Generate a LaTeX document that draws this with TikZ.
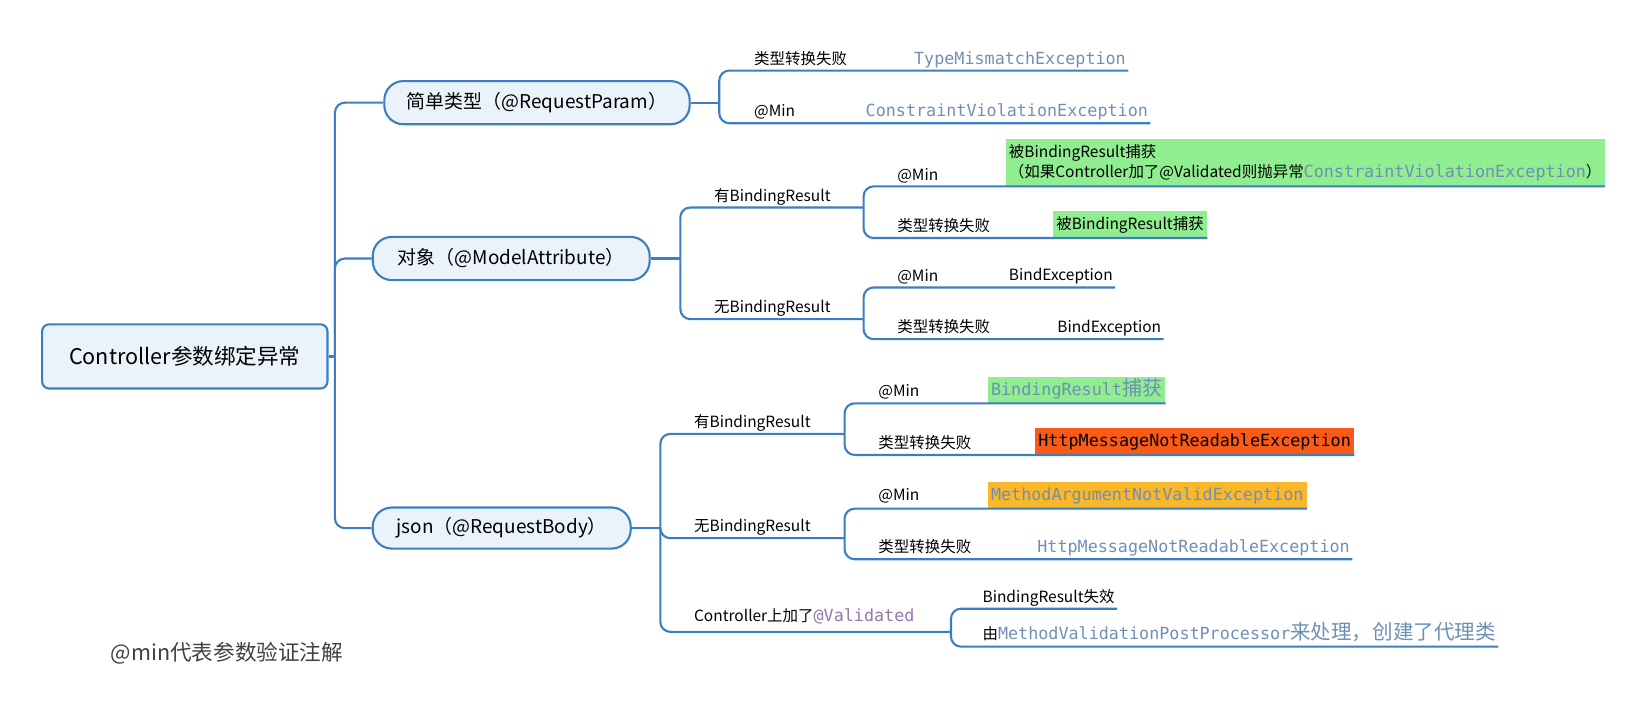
\documentclass[tikz,border=0pt]{standalone}
\usepackage{fontspec}
\setmainfont{Noto Sans CJK SC}
\newfontfamily\codefont{DejaVu Sans Mono}

\definecolor{linkblue}{HTML}{3B7FC2}
\definecolor{boxfill}{HTML}{EBF3FA}
\definecolor{codegray}{HTML}{6F8FB7}
\definecolor{hlgreen}{HTML}{90EE90}
\definecolor{hlorange}{HTML}{FA5A17}
\definecolor{hlyellow}{HTML}{F9B82A}
\definecolor{annot}{HTML}{9876AA}
\definecolor{memogray}{HTML}{404040}

\newcommand{\code}[1]{{\codefont\fontsize{15.9}{18}\selectfont #1}}

\begin{document}
\begin{tikzpicture}
        [x=1pt, y=-1pt, scale=1.0529, transform shape,
         root/.style={draw=linkblue, line width=2.1pt, fill=boxfill, rounded corners=7pt, minimum width=271pt, minimum height=61pt, font=\fontsize{20.5}{24}\selectfont},
         topic/.style={draw=linkblue, line width=2.1pt, fill=boxfill, rounded corners=19pt, minimum height=41pt, font=\fontsize{18}{22}\selectfont},
         branch/.style={draw=linkblue, line width=2.1pt, rounded corners=10pt},
         lbl/.style={anchor=base west, inner sep=0pt, font=\fontsize{14.7}{17}\selectfont},
         leaf/.style={anchor=south west, inner xsep=2pt, inner ysep=0pt, text depth=6pt, font=\fontsize{14.7}{17}\selectfont},
         hl/.style={anchor=south west, inner xsep=3pt, inner ysep=4.5pt, text height=13pt, text depth=3pt, font=\fontsize{14.7}{17}\selectfont},
         note/.style={anchor=south west, inner xsep=3pt, inner ysep=3pt, minimum height=45pt, align=left, font=\fontsize{14.7}{19}\selectfont}]
        \useasboundingbox (0,0) rectangle (1568,674.3);

        \node [root] (ctl) at (175.5,338.5) {Controller参数绑定异常};
        \node [topic, minimum width=290pt] (simple) at (510,97.5) {简单类型（@RequestParam）};
        \node [topic, minimum width=263pt] (object) at (485.5,245.5) {对象（@ModelAttribute）};
        \node [topic, minimum width=245pt, minimum height=39pt] (json) at (476.5,501.5) {json（@RequestBody）};

        \coordinate (hub) at (318,338.5);
        \coordinate (f1) at (683,97.5);
        \coordinate (f2) at (646,245.5);
        \coordinate (f3) at (627,501.5);
        \coordinate (g1) at (820,197);
        \coordinate (g2) at (820,303);
        \coordinate (h1) at (802,412);
        \coordinate (h2) at (802,511);
        \coordinate (h3) at (903,600);

        \node [lbl] (l1) at (716,61) {类型转换失败};
        \node [leaf, text=codegray] (tme) at (866,67) {\code{TypeMismatchException}};
        \node [lbl] (l2) at (716,111) {@Min};
        \node [leaf, text=codegray] (cve) at (820,117) {\code{ConstraintViolationException}};

        \node [lbl] (l3) at (678,191) {有BindingResult};
        \node [lbl] (l4) at (678,297) {无BindingResult};
        \node [lbl] (l5) at (852,171) {@Min};
        \node [note, fill=hlgreen] (cvnote) at (955,177) {被BindingResult捕获\\（如果Controller加了@Validated则抛异常\textcolor{codegray}{\code{ConstraintViolationException}}）};
        \node [lbl] (l6) at (852,220) {类型转换失败};
        \node [hl, fill=hlgreen] (caught) at (1000,226) {被BindingResult捕获};
        \node [lbl] (l7) at (852,267) {@Min};
        \node [leaf] (be1) at (956,273) {BindException};
        \node [lbl] (l8) at (852,316) {类型转换失败};
        \node [leaf] (be2) at (1002,322) {BindException};

        \node [lbl] (l9) at (659,406) {有BindingResult};
        \node [lbl] (l10) at (659,505) {无BindingResult};
        \node [lbl] (l11) at (659,590) {Controller上加了\textcolor{annot}{\code{@Validated}}};
        \node [lbl] (l12) at (834,377) {@Min};
        \node [hl, fill=hlgreen, text=codegray] (brc) at (938,383) {\code{BindingResult}{\fontsize{19}{20}\selectfont 捕获}};
        \node [lbl] (l13) at (834,426) {类型转换失败};
        \node [hl, fill=hlorange] (hmn1) at (983,432) {\code{HttpMessageNotReadableException}};
        \node [lbl] (l14) at (834,475) {@Min};
        \node [hl, fill=hlyellow, text=codegray] (manv) at (938,483) {\code{MethodArgumentNotValidException}};
        \node [lbl] (l15) at (834,525) {类型转换失败};
        \node [leaf, text=codegray] (hmn2) at (983,531) {\code{HttpMessageNotReadableException}};
        \node [leaf] (brfail) at (931,578) {BindingResult失效};
        \node [leaf] (mvpp) at (931,614) {由\textcolor{codegray}{\code{MethodValidationPostProcessor}\fontsize{19.5}{20}\selectfont 来处理，创建了代理类}};

        \node [lbl, text=memogray, font=\fontsize{20.5}{24}\selectfont] (memo) at (105,627) {@min代表参数验证注解};

        \draw [branch] (ctl.east) -- (hub);
        \draw [branch] (hub) |- (simple.west);
        \draw [branch] (hub) |- (object.west);
        \draw [branch] (hub) |- (json.west);

        \draw [branch] (simple.east) -- (f1);
        \draw [branch] (f1) |- (tme.south east);
        \draw [branch] (f1) |- (cve.south east);

        \draw [branch] (object.east) -- (f2);
        \draw [branch] (f2) |- (g1);
        \draw [branch] (f2) |- (g2);
        \draw [branch] (g1) |- (cvnote.south east);
        \draw [branch] (g1) |- (caught.south east);
        \draw [branch] (g2) |- (be1.south east);
        \draw [branch] (g2) |- (be2.south east);

        \draw [branch] (json.east) -- (f3);
        \draw [branch] (f3) |- (h1);
        \draw [branch] (f3) |- (h2);
        \draw [branch] (f3) |- (h3);
        \draw [branch] (h1) |- (brc.south east);
        \draw [branch] (h1) |- (hmn1.south east);
        \draw [branch] (h2) |- (manv.south east);
        \draw [branch] (h2) |- (hmn2.south east);
        \draw [branch] (h3) |- (brfail.south east);
        \draw [branch] (h3) |- (mvpp.south east);
    \end{tikzpicture}
\end{document}
